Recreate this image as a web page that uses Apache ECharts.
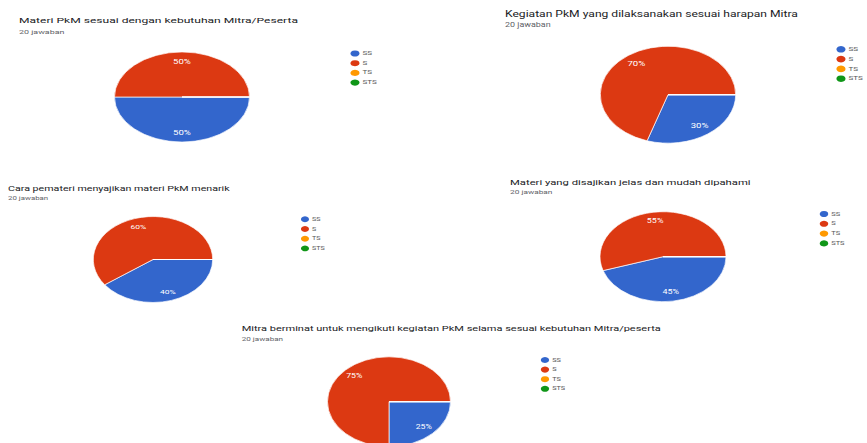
<!DOCTYPE html>
<html>
<head>
<meta charset="utf-8">
<script src="https://cdn.jsdelivr.net/npm/echarts@6/dist/echarts.min.js"></script>
<style>
html,body{margin:0;padding:0;background:#fff;width:867px;height:443px;overflow:hidden;position:relative;}
.panel{position:absolute;transform-origin:0 0;}
</style>
</head>
<body>
<script>
// ---- data ----
const titles = [
  'Materi PkM sesuai dengan kebutuhan Mitra/Peserta',
  'Kegiatan PkM yang dilaksanakan sesuai harapan Mitra',
  'Cara pemateri menyajikan materi PkM menarik',
  'Materi yang disajikan jelas dan mudah dipahami',
  'Mitra berminat untuk mengikuti kegiatan PkM selama sesuai kebutuhan Mitra/peserta'
];
const subtitle = '20 jawaban';
const categories = ['SS', 'S', 'TS', 'STS'];
const valuesSS  = [10, 6, 8, 9, 5];
const valuesS   = [10, 14, 12, 11, 15];
const valuesTS  = [0, 0, 0, 0, 0];
const valuesSTS = [0, 0, 0, 0, 0];
const colors = ['#3366cc', '#dc3912', '#ff9900', '#109618'];

// ---- layout (reference pixel coordinates) ----
const panels = [
  {L:0,   T:0,   W:430, H:170, sc:0.667, tx:19,  ty:20,  sy:32,  cx:182, cy:97,    r:67.5, lx:355, ly:53.5, lg:9.7},
  {L:430, T:0,   W:437, H:170, sc:0.716, tx:505, ty:14,  sy:25,  cx:668, cy:94.7,  r:67.7, lx:841, ly:49.3, lg:9.8},
  {L:0,   T:170, W:430, H:145, sc:0.72,  tx:8,   ty:188, sy:198, cx:153, cy:259.5, r:59.7, lx:305, ly:219.3,lg:9.7},
  {L:430, T:170, W:437, H:145, sc:0.714, tx:510, ty:181.7,sy:192,cx:663, cy:256.7, r:63,   lx:824, ly:214,  lg:9.8},
  {L:0,   T:315, W:867, H:140, sc:0.73,  tx:241.7,ty:328,sy:339, cx:389, cy:401.7, r:61.5, lx:545, ly:360,  lg:9.6}
];

const font = 'Roboto, Arial, sans-serif';

panels.forEach((p, i) => {
  const TF = 0.179 * p.r, SF = 0.132 * p.r, LF = 0.119 * p.r, PF = 0.142 * p.r, DOT = 0.135 * p.r;
  const div = document.createElement('div');
  div.className = 'panel';
  const hLocal = p.H / p.sc;
  div.style.left = p.L + 'px';
  div.style.top = p.T + 'px';
  div.style.width = p.W + 'px';
  div.style.height = hLocal + 'px';
  div.style.transform = 'scaleY(' + p.sc + ')';
  document.body.appendChild(div);
  const X = x => x - p.L;
  const Y = y => (y - p.T) / p.sc;

  const vals = [valuesSS[i], valuesS[i], valuesTS[i], valuesSTS[i]];
  const data = categories.map((c, k) => ({name: c, value: vals[k], itemStyle: {color: colors[k]}}));
  const labelData = categories.map((c, k) => ({name: c, value: vals[k], itemStyle: {color: 'rgba(0,0,0,0)'}}));
  const chart = echarts.init(div, null, {renderer: 'svg', width: p.W, height: hLocal});
  const legH = p.lg / p.sc;
  chart.setOption({
    animation: false,
    title: [
      {text: titles[i], left: X(p.tx), top: Y(p.ty) - TF/2, padding: 0,
       textStyle: {fontFamily: font, fontSize: TF, fontWeight: 'normal', color: '#202124', lineHeight: TF}},
      {text: subtitle, left: X(p.tx), top: Y(p.sy) - SF/2, padding: 0,
       textStyle: {fontFamily: font, fontSize: SF, fontWeight: 'normal', color: '#5f6368', lineHeight: SF}}
    ],
    legend: {
      orient: 'vertical', left: X(p.lx) - DOT/2, top: Y(p.ly) - legH/2, padding: 0,
      icon: 'circle', itemWidth: DOT, itemHeight: DOT, itemGap: 0,
      itemStyle: {borderWidth: 0},
      textStyle: {fontFamily: font, fontSize: LF, color: '#555', lineHeight: legH, height: legH, padding: [0, 0, 0, -2]},
      data: categories.map((c, k) => ({name: c, itemStyle: {color: colors[k]}}))
    },
    series: [
      {type: 'pie', center: [X(p.cx), Y(p.cy)], radius: [0, p.r], startAngle: 0, clockwise: true,
       label: {show: false}, labelLine: {show: false}, silent: true,
       itemStyle: {borderColor: '#fff', borderWidth: 0.8}, data: data},
      {type: 'pie', center: [X(p.cx), Y(p.cy)], radius: [p.r * 0.5, p.r], startAngle: 0, clockwise: true,
       silent: true, labelLine: {show: false}, legendHoverLink: false,
       label: {show: true, position: 'inside', color: '#fff', fontFamily: font, fontSize: PF,
               formatter: q => q.value > 0 ? Math.round(q.percent) + '%' : ''},
       data: labelData}
    ]
  });
});
</script>
</body>
</html>
